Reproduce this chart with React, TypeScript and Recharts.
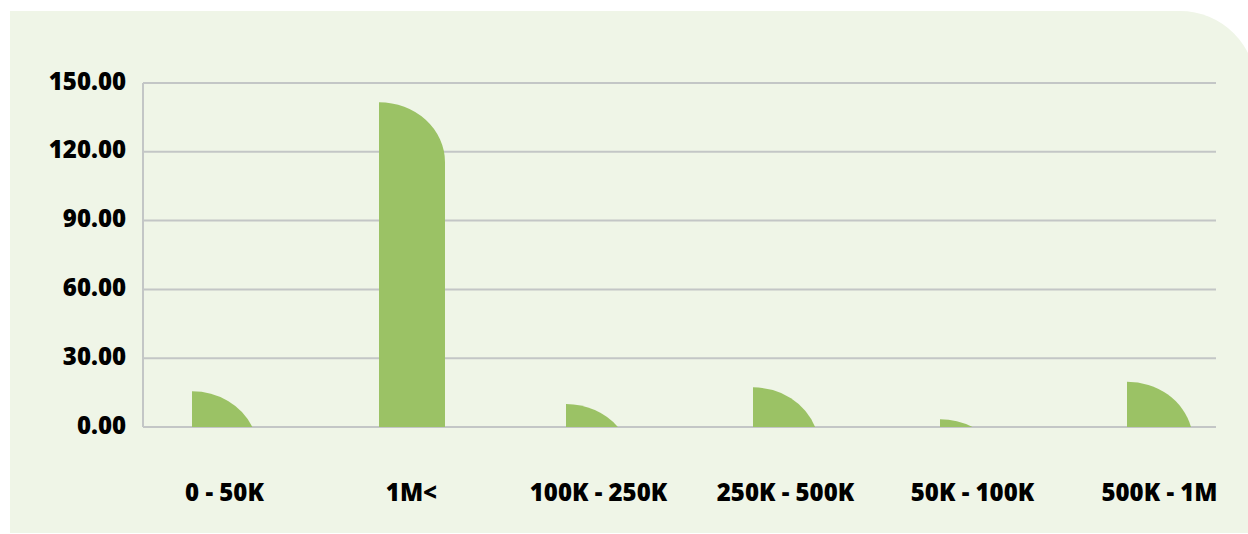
import React from "react";
import { BarChart, Bar, XAxis, YAxis, CartesianGrid } from "recharts";

const categories = ["0 - 50K", "1M<", "100K - 250K", "250K - 500K", "50K - 100K", "500K - 1M"];
const values = [15.6, 141.6, 10.0, 17.3, 3.4, 19.75];
const yTicks = [0, 30, 60, 90, 120, 150];

const data = categories.map((c, i) => ({ name: c, value: values[i] }));

const BAR_COLOR = "#9BC265";
const GRID_COLOR = "#C3C6C6";
const FONT = "'Open Sans', sans-serif";

const CornerBar = (props: any) => {
  const { x, y, width, height, fill } = props;
  if (!height || height <= 0) return null;
  const rx = width;
  const ry = 60;
  const base = y + height;
  let d: string;
  if (height >= ry) {
    d = `M${x},${base} L${x},${y} A${rx},${ry} 0 0 1 ${x + width},${y + ry} L${x + width},${base} Z`;
  } else {
    const t = (ry - height) / ry;
    const xe = x + rx * Math.sqrt(1 - t * t);
    d = `M${x},${base} L${x},${y} A${rx},${ry} 0 0 1 ${xe},${base} Z`;
  }
  return <path d={d} fill={fill} />;
};

const YTick = (props: any) => {
  const { x, y, payload } = props;
  return (
    <text x={x} y={y} dy={-3} textAnchor="end" dominantBaseline="central"
      fontFamily={FONT} fontWeight={800} fontSize={24} fill="#000">
      {Number(payload.value).toFixed(2)}
    </text>
  );
};

const XTick = (props: any) => {
  const { x, y, payload } = props;
  return (
    <text x={x} y={y} textAnchor="middle" dominantBaseline="central"
      fontFamily={FONT} fontWeight={800} fontSize={24} fill="#000">
      {payload.value}
    </text>
  );
};

export default function App() {
  return (
    <div style={{ position: "absolute", left: 0, top: 0, width: 1248, height: 534, overflow: "hidden", background: "#fff" }}>
      <div style={{
        position: "absolute", left: 10, top: 11, width: 1246, height: 522,
        background: "#EFF5E7", borderTopRightRadius: 76,
      }} />
      <div style={{ position: "absolute", left: 0, top: 0 }}>
        <BarChart width={1248} height={534} data={data}
          margin={{ top: 83, right: 32, left: 0, bottom: 0 }}>
          <CartesianGrid vertical={false} stroke={GRID_COLOR} strokeWidth={2} />
          <XAxis dataKey="name" axisLine={false} tickLine={false} height={107}
            padding={{ left: -12, right: -37 }} interval={0}
            tick={<XTick />} tickMargin={58} />
          <YAxis domain={[0, 150]} ticks={yTicks} width={143} tickLine={false}
            axisLine={{ stroke: GRID_COLOR, strokeWidth: 2 }} tickMargin={11}
            tick={<YTick />} />
          <Bar dataKey="value" fill={BAR_COLOR} barSize={66} shape={<CornerBar />} isAnimationActive={false} />
        </BarChart>
      </div>
    </div>
  );
}
